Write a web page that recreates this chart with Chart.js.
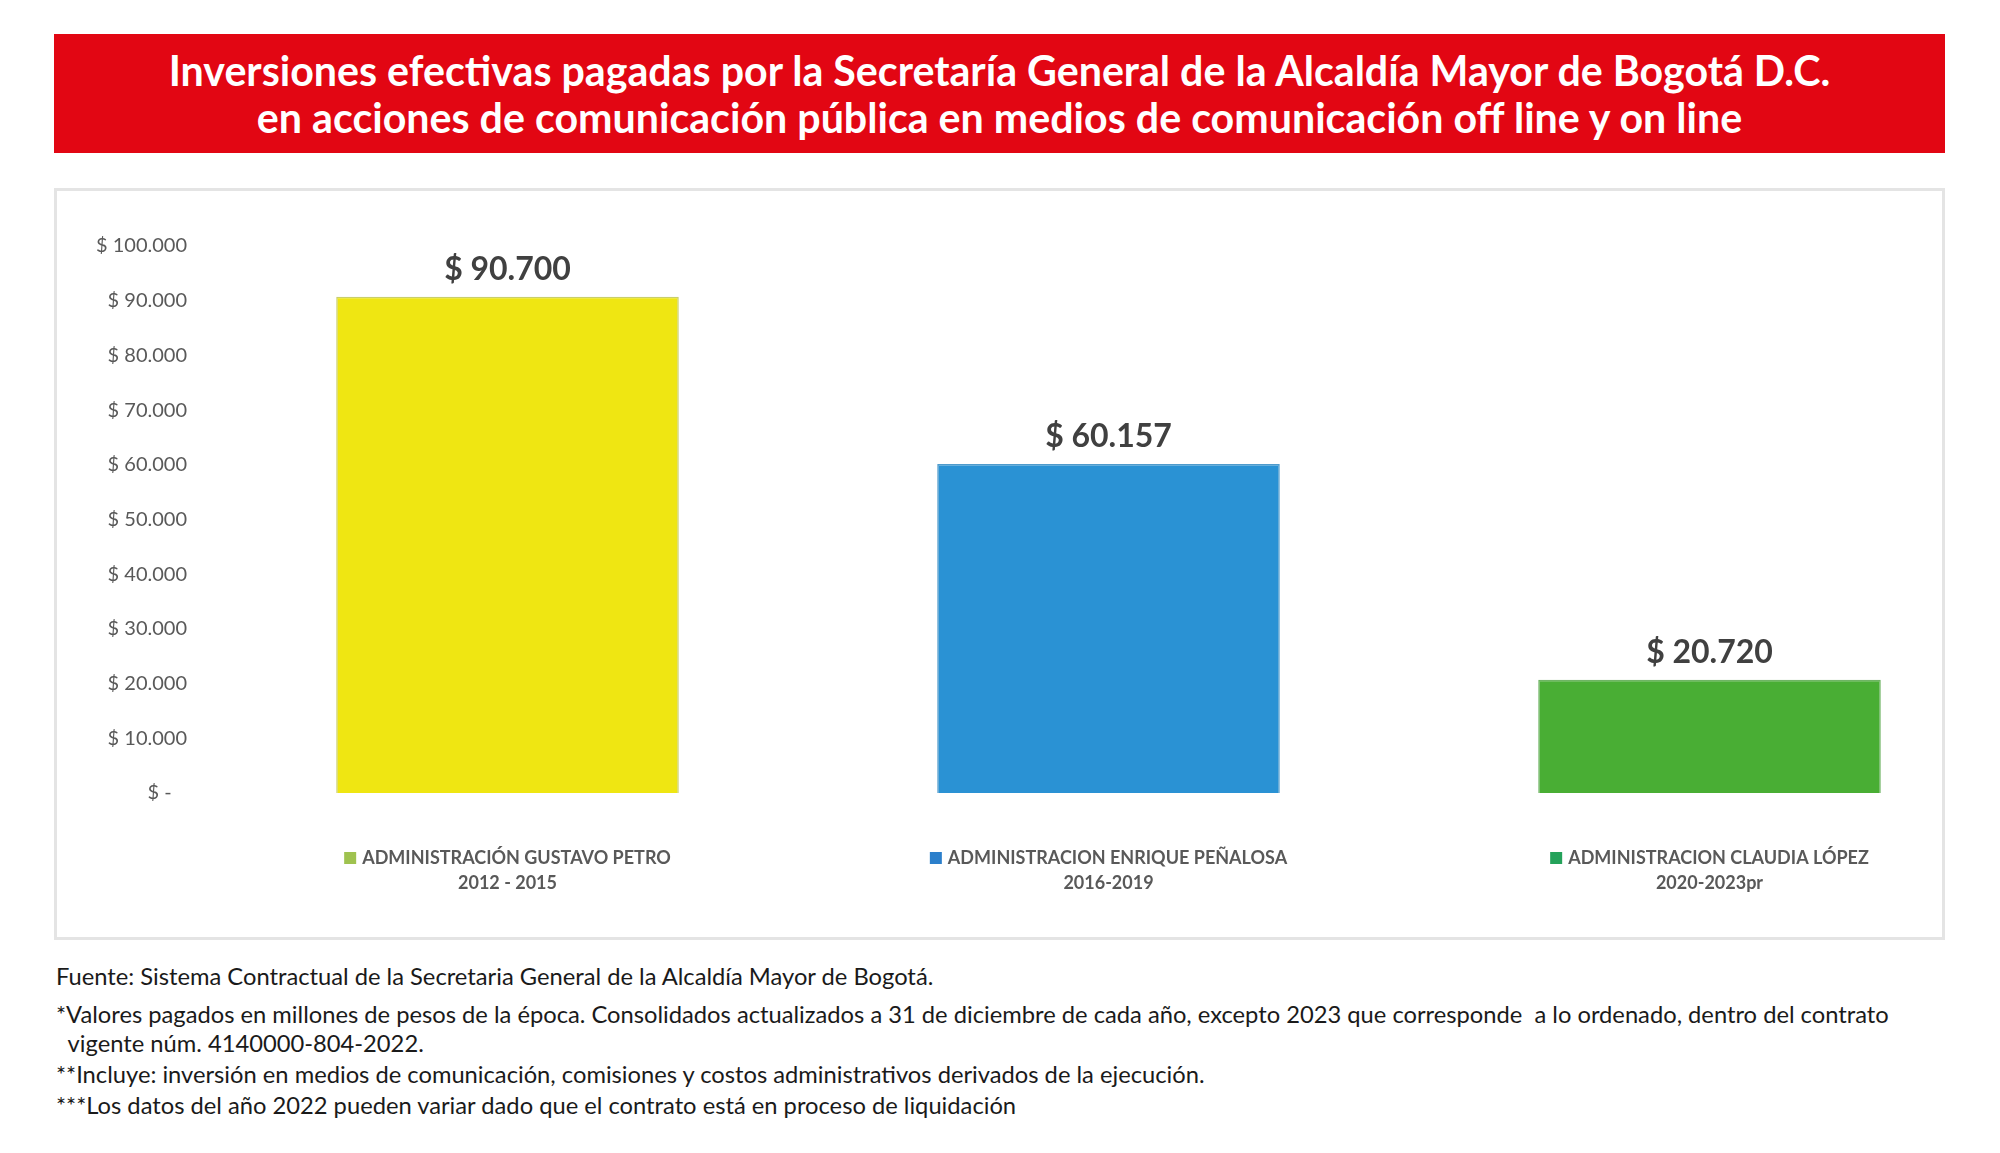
<!DOCTYPE html>
<html lang="es">
<head>
<meta charset="utf-8">
<title>Inversiones efectivas pagadas</title>
<script src="https://cdn.jsdelivr.net/npm/chart.js@4.4.1/dist/chart.umd.min.js"></script>
<style>
  html, body { margin: 0; padding: 0; background: #fff; overflow: hidden; }
  body { width: 2000px; height: 1153px; position: relative; font-family: Lato, "Open Sans", sans-serif; }
  #banner {
    position: absolute; left: 54px; top: 34px; width: 1891px; height: 119px;
    background: #e20613; color: #fff; font-weight: 700;
    display: flex; flex-direction: column; justify-content: center; align-items: center;
  }
  #banner div { line-height: 47px; white-space: nowrap; font-size: 38px; }
  #box {
    position: absolute; left: 54px; top: 188px; width: 1891px; height: 752px;
    box-sizing: border-box; border: 3px solid #e4e4e4;
  }
  #chartWrap { position: absolute; left: 0; top: 188px; width: 2020px; height: 752px; }
  .note {
    position: absolute; left: 56px; white-space: pre; color: #1a1a1a;
    font-family: Lato, sans-serif; font-size: 20px; line-height: 24px;
  }
</style>
</head>
<body>
<div id="banner">
  <div id="t1">Inversiones efectivas pagadas por la Secretaría General de la Alcaldía Mayor de Bogotá D.C.</div>
  <div id="t2">en acciones de comunicación pública en medios de comunicación off line y on line</div>
</div>
<div id="box"></div>
<div id="chartWrap"><canvas id="barChart"></canvas></div>

<div class="note" style="top:964px">Fuente: Sistema Contractual de la Secretaria General de la Alcaldía Mayor de Bogotá.</div>
<div class="note" id="longNote" style="top:1002px">*Valores pagados en millones de pesos de la época. Consolidados actualizados a 31 de diciembre de cada año, excepto 2023 que corresponde  a lo ordenado, dentro del contrato</div>
<div class="note" style="top:1031px">  vigente núm. 4140000-804-2022.</div>
<div class="note" style="top:1062px">**Incluye: inversión en medios de comunicación, comisiones y costos administrativos derivados de la ejecución.</div>
<div class="note" style="top:1093px">***Los datos del año 2022 pueden variar dado que el contrato está en proceso de liquidación</div>

<script>
// Data (millones de pesos)
const categories = [
    'ADMINISTRACIÓN GUSTAVO PETRO',
    'ADMINISTRACION ENRIQUE PEÑALOSA',
    'ADMINISTRACION CLAUDIA LÓPEZ'
];
const periods = ['2012 - 2015', '2016-2019', '2020-2023pr'];
const values = [90700, 60157, 20720];

const barColors = ['#efe612', '#2a92d4', '#49ae34'];
const barEdges = ['#c9cf6a', '#4f9bcc', '#6fb464'];
const legendColors = ['#9fc24f', '#2b7fcb', '#24a25a'];

const yMax = 100000;
const yStep = 10000;

// 90700 -> "90.700"
function miles(n) {
    return String(n).replace(/\B(?=(\d{3})+(?!\d))/g, '.');
}

// Scale the text so it spans the same width as in the reference
function fitFont(els, ref, target) {
    const base = parseFloat(getComputedStyle(ref).fontSize);
    const size = base * target / ref.getBoundingClientRect().width;
    els.forEach(e => { e.style.fontSize = size + 'px'; });
}
fitFont([document.getElementById('t1'), document.getElementById('t2')], document.getElementById('t1'), 1662);
fitFont(Array.from(document.querySelectorAll('.note')), document.getElementById('longNote'), 1834);

// Value above each bar
const valueLabels = {
    id: 'valueLabels',
    afterDatasetsDraw(chart) {
        const ctx = chart.ctx;
        const meta = chart.getDatasetMeta(0);
        ctx.save();
        ctx.font = 'bold 32px Lato';
        ctx.fillStyle = '#404040';
        ctx.textAlign = 'center';
        ctx.textBaseline = 'middle';
        meta.data.forEach((bar, i) => {
            ctx.fillText('$ ' + miles(values[i]), bar.x, bar.y - 27);
        });
        ctx.restore();
    }
};

// Legend-like label under each bar (square + name, period below)
const categoryLabels = {
    id: 'categoryLabels',
    afterDraw(chart) {
        const ctx = chart.ctx;
        const xScale = chart.scales.x;
        const base = chart.chartArea.bottom;
        ctx.save();
        ctx.font = 'bold 18px Lato';
        ctx.textBaseline = 'middle';
        categories.forEach((name, i) => {
            const cx = xScale.getPixelForValue(i);
            const w = ctx.measureText(name).width;
            const sq = 12, gap = 6;
            const left = cx - (sq + gap + w) / 2;
            ctx.fillStyle = legendColors[i];
            ctx.fillRect(left, base + 59, sq, sq);
            ctx.fillStyle = '#595959';
            ctx.textAlign = 'left';
            ctx.fillText(name, left + sq + gap, base + 65);
            ctx.textAlign = 'center';
            ctx.fillText(periods[i], cx, base + 90);
        });
        ctx.restore();
    }
};

const ctxBar = document.getElementById('barChart').getContext('2d');
new Chart(ctxBar, {
    type: 'bar',
    data: {
        labels: categories,
        datasets: [{
            data: values,
            backgroundColor: barColors,
            borderColor: barEdges,
            borderWidth: 1.5,
            categoryPercentage: 1,
            barPercentage: 0.57
        }]
    },
    options: {
        responsive: true,
        maintainAspectRatio: false,
        animation: false,
        layout: { padding: { top: 58, bottom: 147, left: 0, right: 10 } },
        plugins: {
            legend: { display: false },
            tooltip: { enabled: false }
        },
        scales: {
            x: { display: false },
            y: {
                min: 0,
                max: yMax,
                ticks: {
                    stepSize: yStep,
                    padding: 20,
                    color: '#595959',
                    font: { family: 'Lato', size: 20 },
                    callback: v => v === 0 ? '$ -   ' : '$ ' + miles(v)
                },
                grid: { display: false, drawTicks: false },
                border: { display: false },
                afterFit(scale) { scale.width = 207; }
            }
        }
    },
    plugins: [valueLabels, categoryLabels]
});
</script>
</body>
</html>
